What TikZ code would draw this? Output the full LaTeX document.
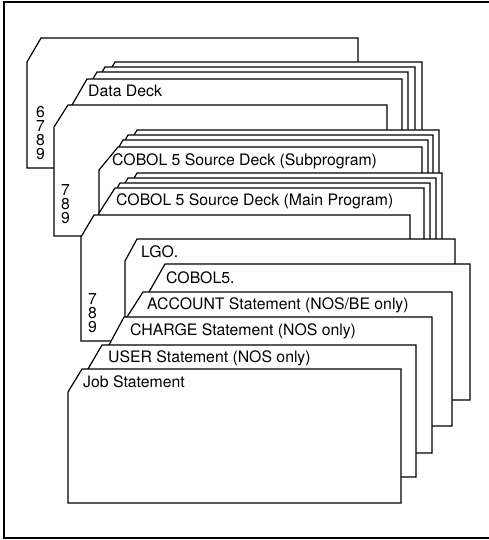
\documentclass[tikz,border=0pt]{standalone}
\usepackage{fontspec}
\setmainfont{TeX Gyre Heros}
\tikzset{
  card/.style={draw=black, fill=white, line width=1.2pt, line join=miter},
  lbl/.style={anchor=base west, inner sep=0pt, font=\fontsize{15.8}{16}\selectfont},
  punch/.style={anchor=north west, inner sep=0pt, align=left, font=\fontsize{15.8}{14}\selectfont},
  frameline/.style={draw=black, line width=1.8pt}
}
% \crd{x0}{y0}{xright}{ybottom}{xleft}{ycutend}
\newcommand\crd[6]{\path[card] (#1,#2) -- (#3,#2) -- (#3,#4) -- (#5,#4) -- (#5,#6) -- cycle;}
\begin{document}
\begin{tikzpicture}[x=1pt,y=-1pt]
\useasboundingbox (0,0) rectangle (488,540);
\fill[white] (0,0) rectangle (488,540);
\draw[frameline] (489,2) -- (4,2) -- (4,538) -- (489,538);

% card A (6 7 8 9)
\crd{41}{38}{358}{168}{27}{62}
% data deck
\crd{115}{62}{422}{160}{101}{86}
\crd{105}{67}{415}{160}{91}{91}
\crd{97}{72}{408}{160}{83}{96}
\crd{87}{79}{402}{160}{72}{105}
% card B (7 8 9)
\crd{68}{105}{387}{236}{54}{127}
% subprogram deck
\crd{137}{130}{439}{225}{123}{154}
\crd{128}{135}{433}{225}{114}{159}
\crd{123}{140}{428}{225}{109}{164}
\crd{118}{147}{422}{225}{99}{170}
% main program deck
\crd{137}{173}{442}{250}{123}{197}
\crd{128}{178}{436}{250}{114}{202}
\crd{120}{183}{430}{250}{106}{207}
\crd{115}{188}{424}{250}{99}{213}
% card C (7 8 9)
\crd{94}{215}{410}{341}{81}{237}
% control cards
\crd{137}{239}{455}{330}{125}{261}
\crd{165}{264}{470}{400}{149}{292}
\crd{143}{292}{452}{426}{127}{317}
\crd{124}{317}{432}{453}{109}{345}
\crd{102}{345}{416}{477}{88}{369}
\crd{82}{369}{401}{503}{68}{392}

% labels
\node[lbl] (dd) at (88,97) {Data Deck};
\node[lbl] (sp) at (112,166) {COBOL 5 Source Deck (Subprogram)};
\node[lbl] (mp) at (116,205) {COBOL 5 Source Deck (Main Program)};
\node[lbl] (lgo) at (141,257) {LGO.};
\node[lbl] (cbl) at (166,283) {COBOL5.};
\node[lbl] (acc) at (147,309) {ACCOUNT Statement (NOS/BE only)};
\node[lbl] (chg) at (130,335) {CHARGE Statement (NOS only)};
\node[lbl] (usr) at (108,362) {USER Statement (NOS only)};
\node[lbl] (job) at (83,387) {Job Statement};

% multi-punch digits
\node[punch] (pa) at (36,105.8) {6\\7\\8\\9};
\node[punch] (pb) at (61,184.8) {7\\8\\9};
\node[punch] (pc) at (88,293.8) {7\\8\\9};
\end{tikzpicture}
\end{document}
